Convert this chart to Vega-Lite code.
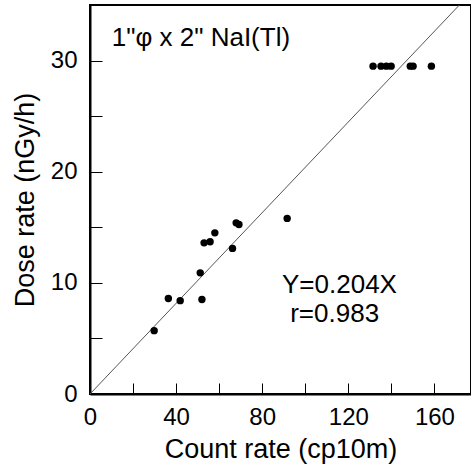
{
  "$schema": "https://vega.github.io/schema/vega-lite/v6.json",
  "autosize": {"type": "none"},
  "padding": {"left": 90, "top": 5, "right": 0, "bottom": 72},
  "width": 381,
  "height": 389,
  "background": "white",
  "config": {
    "view": {"stroke": "black", "strokeWidth": 2},
    "font": "Liberation Sans",
    "axis": {"grid": false, "domainColor": "black", "tickColor": "black", "labelColor": "black", "titleColor": "black", "labelFont": "Liberation Sans", "titleFont": "Liberation Sans", "titleFontWeight": "normal"}
  },
  "datasets": {
    "pts": [
      {"count": 29.8, "dose": 5.7},
      {"count": 36.4, "dose": 8.6},
      {"count": 41.9, "dose": 8.4},
      {"count": 52.0, "dose": 8.5},
      {"count": 51.2, "dose": 10.9},
      {"count": 53.0, "dose": 13.6},
      {"count": 55.8, "dose": 13.7},
      {"count": 58.0, "dose": 14.5},
      {"count": 66.2, "dose": 13.1},
      {"count": 67.9, "dose": 15.4},
      {"count": 69.2, "dose": 15.25},
      {"count": 91.6, "dose": 15.8},
      {"count": 131.5, "dose": 29.5},
      {"count": 135.2, "dose": 29.5},
      {"count": 137.7, "dose": 29.5},
      {"count": 139.9, "dose": 29.5},
      {"count": 148.8, "dose": 29.5},
      {"count": 150.1, "dose": 29.5},
      {"count": 158.6, "dose": 29.5}
    ],
    "fit": [
      {"count": 0, "dose": 0},
      {"count": 171.6, "dose": 35}
    ],
    "labels": [
      {"count": 10.1, "dose": 31.3, "text": "1\"φ x 2\" NaI(Tl)"},
      {"count": 89.2, "dose": 9.1, "text": "Y=0.204X"},
      {"count": 93.0, "dose": 6.5, "text": "r=0.983"}
    ]
  },
  "layer": [
    {
      "data": {"name": "fit"},
      "mark": {"type": "line", "color": "#555555", "strokeWidth": 1, "clip": true},
      "encoding": {
        "x": {"field": "count", "type": "quantitative", "scale": {"domain": [0, 177], "nice": false},
          "axis": {"title": "Count rate (cp10m)", "values": [0, 20, 40, 60, 80, 100, 120, 140, 160], "labelExpr": "datum.value % 40 == 0 ? datum.label : ''", "tickSize": -11, "tickWidth": 1, "domainWidth": 2, "labelFontSize": 24, "titleFontSize": 27, "labelPadding": 22, "titlePadding": 7, "labelFlush": false}},
        "y": {"field": "dose", "type": "quantitative", "scale": {"domain": [0, 35], "nice": false},
          "axis": {"title": "Dose rate (nGy/h)", "values": [0, 5, 10, 15, 20, 25, 30], "labelExpr": "datum.value % 10 == 0 ? datum.label : ''", "tickSize": -12, "tickWidth": 1, "domainWidth": 2, "labelFontSize": 24, "titleFontSize": 27, "labelPadding": 25, "titlePadding": 11, "labelFlush": false}}
      }
    },
    {
      "data": {"name": "pts"},
      "mark": {"type": "circle", "color": "black", "opacity": 1, "size": 55},
      "encoding": {
        "x": {"field": "count", "type": "quantitative"},
        "y": {"field": "dose", "type": "quantitative"}
      }
    },
    {
      "data": {"name": "labels"},
      "mark": {"type": "text", "align": "left", "baseline": "alphabetic", "fontSize": 26, "font": "Liberation Sans", "color": "black"},
      "encoding": {
        "x": {"field": "count", "type": "quantitative"},
        "y": {"field": "dose", "type": "quantitative"},
        "text": {"field": "text"}
      }
    }
  ]
}
